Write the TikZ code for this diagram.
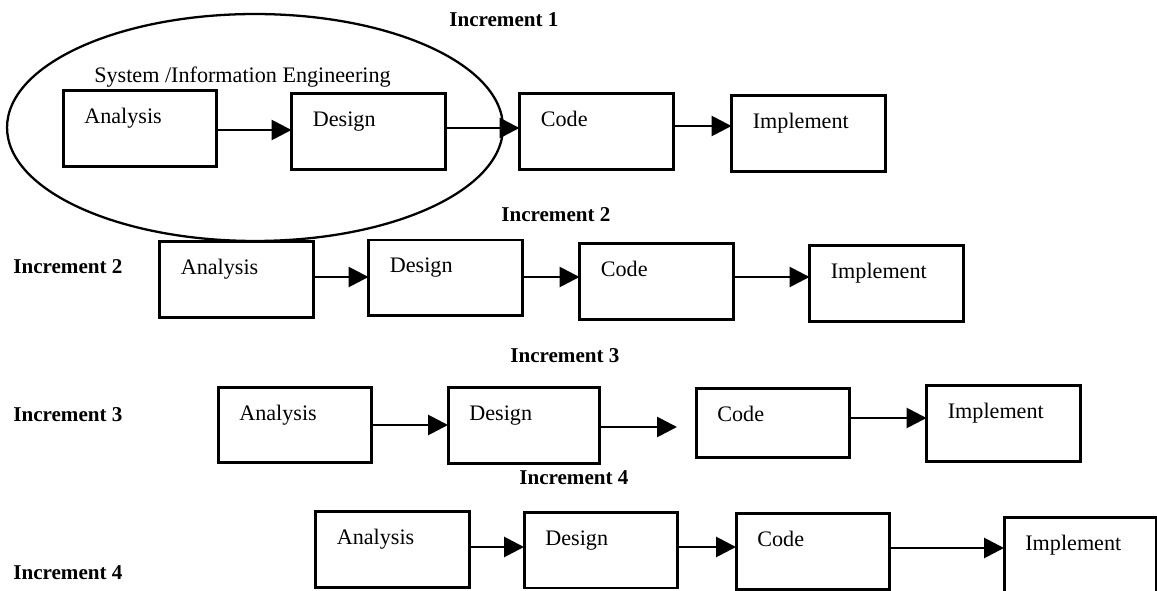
\documentclass[tikz,border=0pt]{standalone}
\usepackage{fontspec}
\setmainfont{Liberation Serif}
\usetikzlibrary{arrows.meta}
\begin{document}
\begin{tikzpicture}[x=0.02cm, y=-0.02cm,
  stage/.style={draw, line width=1.7pt, minimum width=3.08cm, minimum height=1.52cm,
    inner sep=0pt, outer sep=0pt},
  stagetext/.style={font=\fontsize{12.6}{15}\selectfont, inner sep=0pt},
  inctag/.style={font=\fontsize{12}{14}\selectfont\bfseries, inner sep=0pt, anchor=west},
  flow/.style={line width=1.6pt, -{Triangle[length=0.4cm, width=0.4cm]}},
  ovalline/.style={line width=1.3pt},
  caption/.style={label={[stagetext, anchor=base west, xshift=0.42cm, yshift=-0.66cm]north west:#1}}]

\useasboundingbox (0,0) rectangle (1157,591);
\clip (0,0) rectangle (1157,591);

% ---- Increment 1 ----
\node[inctag] (inc1) at (449,20) {Increment 1};
\draw[ovalline] (255,127.5) ellipse [x radius=4.96cm, y radius=2.27cm];
\node[stagetext, anchor=base west] (sie) at (94,83) {System /Information Engineering};

\node[stage, caption=Analysis]  (a1) at (140,128.5) {};
\node[stage, caption=Design]    (d1) at (368.5,131.5) {};
\node[stage, caption=Code]      (c1) at (596.5,131.5) {};
\node[stage, caption=Implement] (i1) at (808.5,133.5) {};

\coordinate (r1a) at (0,130);
\coordinate (r1b) at (0,128);
\coordinate (r1c) at (0,126);
\draw[flow] (a1.east |- r1a) -- (d1.west |- r1a);
\draw[flow] (d1.east |- r1b) -- (c1.west |- r1b);
\draw[flow] (c1.east |- r1c) -- (i1.west |- r1c);

% ---- Increment 2 ----
\node[inctag] (inc2t) at (501,215) {Increment 2};
\node[inctag] (inc2l) at (13,267) {Increment 2};

\node[stage, caption=Analysis]  (a2) at (236.5,279.5) {};
\node[stage, caption=Design]    (d2) at (445.5,278) {};
\node[stage, caption=Code]      (c2) at (656.5,281.5) {};
\node[stage, caption=Implement] (i2) at (886.5,283.5) {};

\coordinate (r2) at (0,277);
\draw[flow] (a2.east |- r2) -- (d2.west |- r2);
\draw[flow] (d2.east |- r2) -- (c2.west |- r2);
\draw[flow] (c2.east |- r2) -- (i2.west |- r2);

% ---- Increment 3 ----
\node[inctag] (inc3t) at (510,356) {Increment 3};
\node[inctag] (inc3l) at (13,415) {Increment 3};

\node[stage, caption=Analysis]  (a3) at (295,425) {};
\node[stage, minimum width=3.04cm, caption=Design] (d3) at (524,425.5) {};
\node[stage, minimum height=1.4cm, caption=Code] (c3) at (773,423) {};
\node[stage, caption=Implement] (i3) at (1003.5,423.5) {};

\coordinate (r3a) at (0,425);
\coordinate (d3end) at (677,427);
\coordinate (r3c) at (0,418);
\draw[flow] (a3.east |- r3a) -- (d3.west |- r3a);
\draw[flow] (d3.east |- d3end) -- (d3end);
\draw[flow] (c3.east |- r3c) -- (i3.west |- r3c);

% ---- Increment 4 ----
\node[inctag] (inc4t) at (519,478) {Increment 4};
\node[inctag] (inc4l) at (13,573) {Increment 4};

\node[stage, caption=Analysis]  (a4) at (392.5,549.5) {};
\node[stage, caption=Design]    (d4) at (601,550) {};
\node[stage, caption=Code]      (c4) at (813,551.5) {};
\node[stage, minimum width=3.04cm, minimum height=1.66cm, caption=Implement] (i4) at (1080,558.5) {};

\coordinate (r4a) at (0,547);
\coordinate (r4c) at (0,548);
\draw[flow] (a4.east |- r4a) -- (d4.west |- r4a);
\draw[flow] (d4.east |- r4a) -- (c4.west |- r4a);
\draw[flow] (c4.east |- r4c) -- (i4.west |- r4c);
\end{tikzpicture}
\end{document}
